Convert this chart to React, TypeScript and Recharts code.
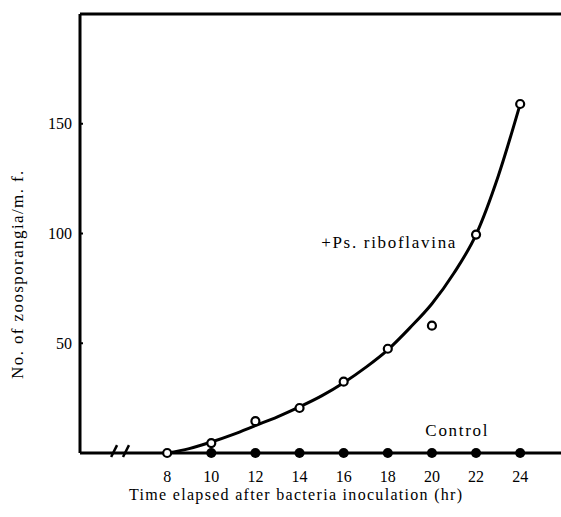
import React from "react";
import {
  ComposedChart,
  Line,
  XAxis,
  YAxis,
  ReferenceLine,
  ReferenceDot,
} from "recharts";

// hours 8..24 (every hour, so the fitted curve can be read at odd hours too)
const hours = [8, 9, 10, 11, 12, 13, 14, 15, 16, 17, 18, 19, 20, 21, 22, 23, 24];
// observed +Ps. riboflavina (open circles), even hours only
const observed = [0, null, 4.5, null, 14.5, null, 20.5, null, 32.5, null, 47.5, null, 58, null, 99.5, null, 159];
// fitted curve
const fitted = [0, 2, 5, 8.5, 12.5, 16.5, 21, 26, 32, 39, 47, 57, 68, 82, 99.5, 126, 159];
// control (filled dots)
const control = [null, null, 0, null, 0, null, 0, null, 0, null, 0, null, 0, null, 0, null, 0];
const xTicks = [8, 10, 12, 14, 16, 18, 20, 22, 24];
const yTicks = [50, 100, 150];

const data = hours.map((h, i) => ({
  h,
  obs: observed[i],
  fit: fitted[i],
  ctl: control[i],
}));

const FONT = "'Liberation Serif', 'DejaVu Serif', serif";

export default function App() {
  return (
    <div style={{ position: "absolute", left: 0, top: 0, background: "#fff" }}>
      <ComposedChart
        width={561}
        height={517}
        data={data}
        margin={{ top: 14, right: 0, left: 0, bottom: 0 }}
      >
        <XAxis
          dataKey="h"
          type="number"
          domain={[4.05, 25.85]}
          ticks={xTicks}
          allowDataOverflow
          height={64}
          axisLine={{ stroke: "#000", strokeWidth: 3 }}
          tickLine={false}
          tickMargin={12}
          tick={{ fill: "#000", fontSize: 16, fontFamily: FONT }}
          interval={0}
        />
        <YAxis
          type="number"
          domain={[0, 200]}
          ticks={yTicks}
          width={80}
          axisLine={{ stroke: "#000", strokeWidth: 3 }}
          tickLine={{ stroke: "#000", strokeWidth: 2 }}
          tickSize={-3}
          tickMargin={11}
          tick={{ fill: "#000", fontSize: 16, fontFamily: FONT }}
          interval={0}
        />
        <ReferenceLine y={200} stroke="#000" strokeWidth={3} />
        <ReferenceLine
          segment={[
            { x: 5.46, y: -1.8 },
            { x: 5.73, y: 3.6 },
          ]}
          stroke="#000"
          strokeWidth={2.5}
          ifOverflow="visible"
        />
        <ReferenceLine
          segment={[
            { x: 6.0, y: -1.8 },
            { x: 6.27, y: 3.6 },
          ]}
          stroke="#000"
          strokeWidth={2.5}
          ifOverflow="visible"
        />
        <Line
          dataKey="fit"
          type="monotone"
          stroke="#000"
          strokeWidth={3}
          dot={false}
          activeDot={false}
          isAnimationActive={false}
        />
        <Line
          dataKey="ctl"
          stroke="none"
          dot={{ r: 5, fill: "#000", stroke: "#000", strokeWidth: 0 }}
          activeDot={false}
          isAnimationActive={false}
        />
        <Line
          dataKey="obs"
          stroke="none"
          dot={{ r: 4, fill: "#fff", stroke: "#000", strokeWidth: 2.2 }}
          activeDot={false}
          isAnimationActive={false}
        />
        <ReferenceDot
          x={18.06}
          y={96}
          r={0}
          ifOverflow="visible"
          label={{
            value: "+Ps. riboflavina",
            position: "center",
            fill: "#000",
            fontSize: 17,
            fontFamily: FONT,
            letterSpacing: 1.7,
          }}
        />
        <ReferenceDot
          x={21.15}
          y={10.5}
          r={0}
          ifOverflow="visible"
          label={{
            value: "Control",
            position: "center",
            fill: "#000",
            fontSize: 17,
            fontFamily: FONT,
            letterSpacing: 1.7,
          }}
        />
        <ReferenceDot
          x={13.85}
          y={-18.7}
          r={0}
          ifOverflow="visible"
          label={{
            value: "Time elapsed after bacteria inoculation (hr)",
            position: "center",
            fill: "#000",
            fontSize: 16,
            fontFamily: FONT,
            letterSpacing: 1.3,
          }}
        />
        <ReferenceDot
          x={1.2}
          y={81.5}
          r={0}
          ifOverflow="visible"
          label={{
            value: "No.  of  zoosporangia/m.  f.",
            position: "center",
            angle: -90,
            fill: "#000",
            fontSize: 17,
            fontFamily: FONT,
            letterSpacing: 1.4,
          }}
        />
      </ComposedChart>
    </div>
  );
}
